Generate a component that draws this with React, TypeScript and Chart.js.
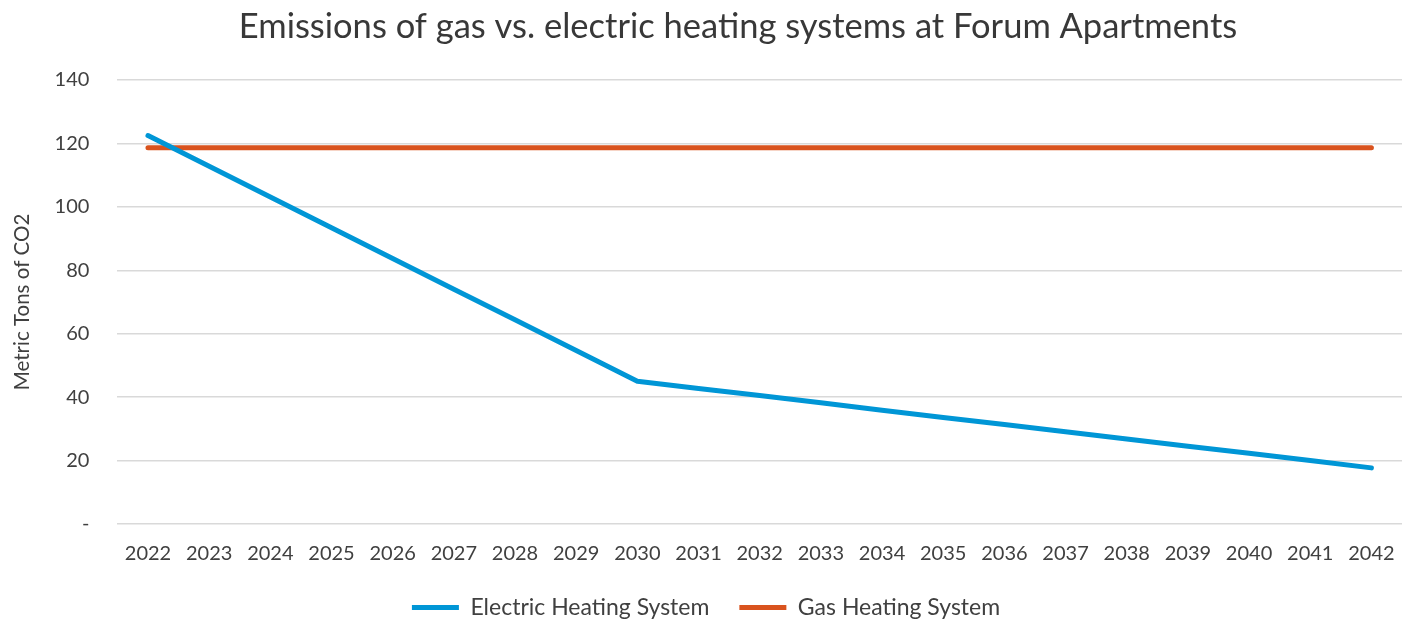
import React, { useEffect, useRef } from "react";
import { Chart, registerables } from "chart.js";

Chart.register(...registerables);

const years = ["2022","2023","2024","2025","2026","2027","2028","2029","2030","2031","2032","2033","2034","2035","2036","2037","2038","2039","2040","2041","2042"];
const electric = [122.5,112.8,103.1,93.4,83.7,74.0,64.4,54.7,45.0,42.7,40.5,38.2,35.9,33.6,31.4,29.1,26.8,24.5,22.3,20.0,17.7];
const gas = [118.6,118.6,118.6,118.6,118.6,118.6,118.6,118.6,118.6,118.6,118.6,118.6,118.6,118.6,118.6,118.6,118.6,118.6,118.6,118.6,118.6];
const yTicks = [0,20,40,60,80,100,120,140];
const titleText = "Emissions of gas vs. electric heating systems at Forum Apartments";

const FONT = "Lato, 'Liberation Sans', sans-serif";
const GRAY = "#404040";

const titlePlugin = {
  id: "offsetTitle",
  afterDraw(chart: any) {
    const ctx = chart.ctx;
    ctx.save();
    ctx.font = `normal 34.5px ${FONT}`;
    ctx.fillStyle = "#383838";
    ctx.textAlign = "center";
    ctx.textBaseline = "middle";
    ctx.fillText(titleText, chart.width / 2 + 37, 27);
    ctx.restore();
  },
};

export default function App() {
  const ref = useRef<HTMLCanvasElement | null>(null);
  useEffect(() => {
    if (!ref.current) return;
    const chart = new Chart(ref.current, {
      type: "line",
      data: {
        labels: years,
        datasets: [
          { label: "Electric Heating System", data: electric, borderColor: "#0096D6", backgroundColor: "#0096D6", borderWidth: 5, pointRadius: 0, borderCapStyle: "round", borderJoinStyle: "round", tension: 0 },
          { label: "Gas Heating System", data: gas, borderColor: "#D9531E", backgroundColor: "#D9531E", borderWidth: 5, pointRadius: 0, borderCapStyle: "round", tension: 0 },
        ],
      },
      plugins: [titlePlugin],
      options: {
        animation: false,
        responsive: false,
        maintainAspectRatio: false,
        layout: { padding: { left: 10, right: 0, top: 80, bottom: -9 } },
        plugins: {
          title: { display: false },
          legend: {
            position: "bottom",
            labels: {
              color: GRAY,
              font: { family: FONT, size: 23 },
              boxWidth: 47,
              boxHeight: 5,
              padding: 30,
              generateLabels: (c: any) => {
                const items = Chart.defaults.plugins.legend.labels.generateLabels(c);
                return items.map((it: any) => ({ ...it, lineWidth: 0 }));
              },
            },
          },
          tooltip: { enabled: false },
        },
        scales: {
          x: {
            offset: true,
            grid: { display: false, drawTicks: true, tickLength: 18 },
            border: { display: false },
            ticks: { color: GRAY, font: { family: FONT, size: 20 }, padding: 0, maxRotation: 0, autoSkip: false },
          },
          y: {
            min: 0,
            max: 140,
            grid: { color: "#D9D9D9", lineWidth: 1.5, drawTicks: false },
            border: { display: false },
            afterBuildTicks: (axis: any) => { axis.ticks = yTicks.map((v) => ({ value: v })); },
            ticks: { color: GRAY, font: { family: FONT, size: 20 }, padding: 28, callback: (v: any) => (v === 0 ? "-" : String(v)) },
            title: { display: true, text: "Metric Tons of CO2", color: GRAY, font: { family: FONT, size: 20.5 }, padding: { top: 0, bottom: -8 } },
          },
        },
      },
    } as any);
    return () => chart.destroy();
  }, []);
  return (
    <div style={{ position: "fixed", left: 0, top: 0, width: 1402, height: 620, background: "#fff" }}>
      <canvas ref={ref} width={1402} height={620} style={{ width: 1402, height: 620 }} />
    </div>
  );
}
